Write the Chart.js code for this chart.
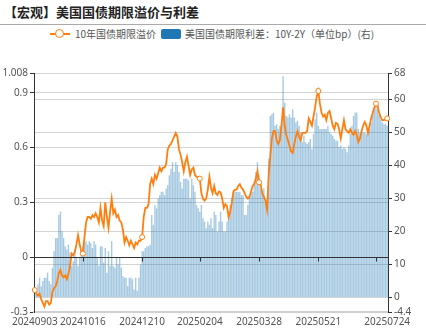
<!DOCTYPE html>
<html>
<head>
<meta charset="utf-8">
<script src="https://cdn.jsdelivr.net/npm/chart.js@4.4.1/dist/chart.umd.min.js"></script>
<style>
  body { margin: 0; width: 426px; height: 331px; background: #fff; position: relative; overflow: hidden;
         font-family: "Noto Sans CJK SC", "Noto Sans", sans-serif; }
  #title { position: absolute; left: 4px; top: 4px; font-size: 13px; font-weight: bold; color: #222; line-height: 16px; }
  #rule { position: absolute; left: 0; top: 24px; width: 426px; height: 1px; background: #aaa; }
  .lg { position: absolute; top: 27px; font-size: 10px; color: #555; line-height: 14px; white-space: nowrap; }
  #lineIcon { position: absolute; left: 50px; top: 33px; width: 20px; height: 2px; background: #ff7f0e; }
  #lineDot { position: absolute; left: 55px; top: 29px; width: 7px; height: 7px; border: 1.5px solid #ff7f0e; border-radius: 50%; background: #fff; }
  #barIcon { position: absolute; left: 161px; top: 29px; width: 20px; height: 10px; background: #1f77b4; border-radius: 2px; }
  #chart { position: absolute; left: 0; top: 0; }
</style>
</head>
<body>
<div id="title">【宏观】美国国债期限溢价与利差</div>
<div id="rule"></div>
<div id="lineIcon"></div><div id="lineDot"></div>
<div class="lg" style="left:75px">10年国债期限溢价</div>
<div id="barIcon"></div>
<div class="lg" style="left:185px">美国国债期限利差：10Y-2Y（单位bp）(右)</div>
<canvas id="chart" width="426" height="331"></canvas>
<script>
// trading days 20240903 .. 20250724 (US bond market holidays skipped)
const startDate = "20240903";
const endDate = "20250724";
const holidays = ["20241014", "20241111", "20241128", "20241225", "20250101", "20250109",
  "20250120", "20250217", "20250418", "20250526", "20250619", "20250704"];
const shownLabels = ["20240903", "20241016", "20241210", "20250204", "20250328", "20250521", "20250724"];
const tickDates = ["20241016", "20241210", "20250204", "20250328", "20250521", "20250715"];
const leftTicks = [-0.3, 0, 0.3, 0.6, 0.9, 1.008];
const rightTicks = [-4.4, 0, 10, 20, 30, 40, 50, 60, 68];

// 10年国债期限溢价
const termPremium = [
  -0.18,-0.20,-0.21,-0.20,-0.23,-0.25,-0.27,-0.24,-0.24,-0.26,
  -0.25,-0.19,-0.17,-0.16,-0.13,-0.09,-0.07,-0.10,-0.11,-0.10,
  -0.12,-0.09,-0.05,0.02,0.01,0.03,0.07,0.12,0.07,0.03,
  0.02,0.11,0.19,0.22,0.22,0.21,0.23,0.22,0.24,0.22,
  0.19,0.27,0.20,0.17,0.30,0.22,0.16,0.25,0.32,0.24,
  0.26,0.22,0.23,0.20,0.19,0.15,0.08,0.11,0.09,0.065,
  0.09,0.07,0.05,0.08,0.07,0.09,0.09,0.11,0.22,0.27,
  0.27,0.29,0.40,0.43,0.40,0.45,0.43,0.46,0.49,0.47,
  0.49,0.49,0.51,0.59,0.61,0.62,0.64,0.66,0.68,0.66,
  0.59,0.56,0.52,0.47,0.52,0.55,0.50,0.45,0.48,0.49,
  0.45,0.44,0.44,0.43,0.35,0.32,0.31,0.32,0.37,0.44,
  0.38,
  0.35,0.39,0.35,0.34,0.36,0.355,0.32,0.27,0.29,0.28,
  0.22,0.25,0.30,0.36,0.37,0.37,0.39,0.40,0.38,0.37,
  0.35,0.33,0.32,0.33,0.36,0.39,0.40,0.43,0.47,0.41,
  0.40,0.35,0.33,0.31,0.26,0.45,0.55,0.65,0.69,0.69,
  0.64,0.62,0.64,0.72,0.82,0.72,0.67,0.64,0.61,0.58,
  0.57,0.62,0.66,0.69,0.66,0.64,0.68,0.68,0.68,0.69,
  0.76,0.74,0.72,0.77,0.82,0.88,0.91,0.84,0.79,0.77,
  0.78,0.75,0.79,0.80,0.76,0.72,0.70,0.735,0.73,0.70,
  0.65,0.70,0.75,0.70,0.69,0.68,0.70,0.68,0.67,0.69,
  0.67,0.63,0.65,0.69,0.72,0.74,0.72,0.68,0.72,0.76,
  0.79,0.82,0.84,0.83,0.79,0.765,0.75,0.75,0.755,0.76
];

// 美国国债期限利差：10Y-2Y（bp）
const spread = [
  2,1,4,6,3.4,5,6,6,7.5,5,
  4,9,14,18,18,25,26,20,18,15.5,
  14.5,16,13.6,9.5,11,14.5,12,9.5,12,13.6,
  15.5,17,17,16,17,16.5,15,17,16,12,
  9.5,15.5,15.5,10.5,15,7.5,14,9.5,17,9.5,
  9,12,10,12,9,6.4,6,6,3.4,6,
  6,5.5,2.4,6,2,6,10,14,14,15,
  15.5,15.5,16,25,22,28,27,30,31,32,
  32,31,33,34,37,39,41,38,41,40,
  38,35,33,36,36,36,35.5,30,36,34,
  32,28,27,26,28,24,23,21,23,22,
  24,
  21,26,25,20,23,26,23,20,20,23,
  26,28,30,32,32,32,32,32,31,31,
  25,25,28,31,32,32,35,38,41,37,
  33,32,33,29,28,42,55,55.5,56,52,
  52.5,51,52,52.5,67,59,55,54.5,55.5,54.5,
  57,54.5,53,53.5,52,50,47,49,47,46.5,
  47,48,45,49.5,54,56,52,51,51,51,
  51,51,52,50,49.5,49,48,47.5,47.5,45.5,
  46,45,45.5,45,44,46,49.5,52,55,56,
  56,51,50,51,50,50,49.5,50,51,53,
  55.5,57,58,57,55.5,54,53,52.5,52.5,52
];

function buildDates() {
  const out = [];
  const d = new Date(Date.UTC(+startDate.slice(0, 4), +startDate.slice(4, 6) - 1, +startDate.slice(6)));
  while (true) {
    const s = d.toISOString().slice(0, 10).replace(/-/g, "");
    const wd = d.getUTCDay();
    if (wd !== 0 && wd !== 6 && !holidays.includes(s)) out.push(s);
    if (s === endDate) break;
    d.setUTCDate(d.getUTCDate() + 1);
  }
  return out;
}
const dates = buildDates();
const markerDates = [dates[0], ...tickDates, dates[dates.length - 1]];

const font = { family: "'Noto Sans', 'Noto Sans CJK SC', sans-serif", size: 10 };

// zero line of the left axis with its small ticks, drawn above the bars
const zeroLine = {
  id: "zeroLine",
  afterDatasetsDraw(chart) {
    const { ctx, chartArea } = chart;
    const x = chart.scales.x;
    const y0 = Math.round(chart.scales.y.getPixelForValue(0)) + 0.5;
    ctx.save();
    ctx.strokeStyle = "#333";
    ctx.lineWidth = 1;
    ctx.beginPath();
    ctx.moveTo(chartArea.left, y0);
    ctx.lineTo(chartArea.right, y0);
    tickDates.forEach(d => {
      const px = Math.round(x.getPixelForValue(dates.indexOf(d))) + 0.5;
      ctx.moveTo(px, y0);
      ctx.lineTo(px, y0 + 4);
    });
    ctx.stroke();
    ctx.restore();
  }
};

new Chart(document.getElementById("chart"), {
  type: "bar",
  data: {
    labels: dates,
    datasets: [
      {
        type: "line",
        label: "10年国债期限溢价",
        data: termPremium,
        yAxisID: "y",
        order: 0,
        borderColor: "#ff7f0e",
        borderWidth: 1.8,
        tension: 0,
        pointRadius: c => markerDates.includes(dates[c.dataIndex]) ? 2.5 : 0,
        pointBackgroundColor: "#fff",
        pointBorderColor: "#ff7f0e",
        pointBorderWidth: 1
      },
      {
        label: "美国国债期限利差：10Y-2Y（单位bp）(右)",
        data: spread,
        yAxisID: "y1",
        order: 1,
        backgroundColor: "rgba(31,119,180,0.4)",
        barPercentage: 0.85,
        categoryPercentage: 1
      }
    ]
  },
  options: {
    responsive: false,
    animation: false,
    layout: { padding: { top: 73, left: 0, right: 0, bottom: 0 } },
    plugins: { legend: { display: false }, tooltip: { enabled: false } },
    scales: {
      x: {
        grid: { display: false, drawTicks: false },
        border: { color: "#d0d0d0", width: 2 },
        ticks: {
          autoSkip: false, maxRotation: 0, minRotation: 0, padding: 4, color: "#555", font,
          callback: (v, i) => shownLabels.includes(dates[i]) ? dates[i] : ""
        },
        afterFit: s => { s.height = 19; }
      },
      y: {
        position: "left",
        min: -0.3, max: 1.008,
        afterBuildTicks: s => { s.ticks = leftTicks.map(v => ({ value: v })); },
        afterFit: s => { s.width = 34; },
        grid: { color: "#d4d4d4", tickColor: "#333", tickLength: 4 },
        border: { color: "#333" },
        ticks: { color: "#555", font, padding: 2, callback: v => String(v) }
      },
      y1: {
        position: "right",
        min: -4.4, max: 68,
        afterBuildTicks: s => { s.ticks = rightTicks.map(v => ({ value: v })); },
        afterFit: s => { s.width = 38; },
        grid: { color: "#d4d4d4", tickColor: "#333", tickLength: 4 },
        border: { color: "#333" },
        ticks: { color: "#555", font, padding: 2, callback: v => String(v) }
      }
    }
  },
  plugins: [zeroLine]
});
</script>
</body>
</html>
